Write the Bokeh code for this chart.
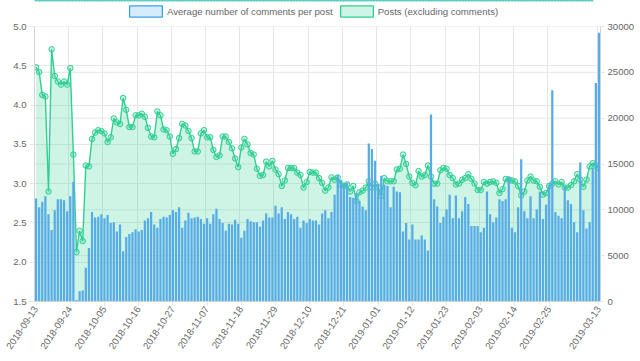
import pandas as pd
from bokeh.plotting import figure
from bokeh.layouts import column
from bokeh.models import (Range1d, LinearAxis, FixedTicker, Span, Legend, LegendItem,
                          NumeralTickFormatter)
from bokeh.embed import file_html
from bokeh.resources import INLINE

# ---------------- data ----------------
dates = [d.strftime("%Y-%m-%d") for d in pd.date_range("2018-09-13", "2019-03-13", freq="D")]

avg_comments = [
    2.81, 2.70, 2.77, 2.84, 2.61, 2.41, 2.66, 2.80, 2.80, 2.79, 2.65, 2.84, 3.02, 1.52, 1.63, 1.64,
    1.93, 2.18, 2.64, 2.57, 2.58, 2.61, 2.56, 2.60, 2.50, 2.51, 2.39, 2.48, 2.14, 2.32, 2.36, 2.38,
    2.42, 2.39, 2.41, 2.53, 2.56, 2.64, 2.48, 2.44, 2.55, 2.58, 2.57, 2.60, 2.66, 2.64, 2.70, 2.44,
    2.53, 2.63, 2.56, 2.57, 2.58, 2.55, 2.49, 2.56, 2.49, 2.61, 2.68, 2.55, 2.50, 2.40, 2.49, 2.48,
    2.54, 2.49, 2.31, 2.40, 2.55, 2.52, 2.51, 2.51, 2.45, 2.53, 2.62, 2.57, 2.57, 2.72, 2.62, 2.70,
    2.55, 2.64, 2.61, 2.55, 2.58, 2.44, 2.53, 2.50, 2.55, 2.53, 2.53, 2.48, 2.62, 2.66, 2.56, 2.64,
    2.86, 3.11, 3.05, 3.00, 3.01, 2.83, 2.82, 2.88, 2.78, 2.71, 2.66, 3.51, 3.44, 3.29, 3.00, 3.10,
    2.99, 2.97, 2.70, 2.96, 2.90, 2.89, 2.39, 2.50, 2.29, 2.48, 2.29, 2.29, 2.34, 2.29, 2.15, 3.88,
    2.80, 2.71, 2.50, 2.58, 2.67, 2.86, 2.56, 2.85, 2.56, 2.65, 2.83, 2.74, 2.46, 2.46, 2.46, 2.38,
    2.44, 2.90, 2.61, 2.51, 2.57, 2.80, 2.78, 2.80, 3.09, 2.44, 2.38, 2.70, 3.31, 2.65, 2.56, 2.84,
    2.56, 2.67, 2.90, 2.55, 2.73, 2.99, 4.19, 2.64, 2.59, 2.56, 2.97, 2.79, 2.74, 2.51, 2.38, 3.27,
    2.66, 2.43, 2.51, 3.20, 4.28, 4.92,
]

posts = [
    25540, 25030, 22540, 22370, 12000, 27510, 24600, 24000, 23660, 24000, 23660, 25460, 16030, 5400,
    7710, 6600, 14830, 14740, 17740, 18430, 18690, 18600, 18340, 17400, 17910, 19970, 19540, 19370,
    22200, 20910, 19030, 19030, 20310, 20310, 20490, 20140, 18940, 18000, 17910, 20740, 20310, 18770,
    18690, 18000, 16110, 16630, 17830, 19370, 19200, 18600, 17830, 16370, 16370, 18340, 18690, 17910,
    17910, 16540, 15770, 15940, 18000, 18000, 17400, 16710, 15600, 14660, 16800, 17740, 17140, 16200,
    16030, 14490, 13710, 13800, 15260, 14740, 15340, 14400, 13890, 12600, 13200, 14570, 14570, 14570,
    14060, 13800, 12430, 13030, 14140, 14060, 14060, 13460, 12940, 12090, 12430, 13540, 13290, 13540,
    12770, 12600, 12770, 12000, 12600, 10970, 11910, 12090, 12430, 13110, 12430, 12860, 12430, 11490,
    13460, 13110, 13110, 13110, 14400, 14490, 16030, 15000, 13630, 12940, 12690, 14230, 13630, 13800,
    14830, 13630, 12860, 12860, 14310, 14570, 14490, 13800, 13460, 12770, 12860, 13290, 13460, 13890,
    13370, 12860, 12170, 12170, 13030, 12860, 13030, 13110, 12940, 11830, 12260, 13370, 13290, 13200,
    13110, 12600, 11570, 12000, 13200, 13630, 13200, 13110, 12510, 11660, 11830, 12600, 12860, 13110,
    12770, 13030, 12430, 12430, 12690, 13110, 13890, 13290, 12510, 13290, 14740, 15090, 14830, 14570,
]

tick_labels = ["2018-09-13", "2018-09-24", "2018-10-05", "2018-10-16", "2018-10-27", "2018-11-07",
               "2018-11-18", "2018-11-29", "2018-12-10", "2018-12-21", "2019-01-01", "2019-01-12",
               "2019-01-23", "2019-02-03", "2019-02-14", "2019-02-25", "2019-03-13"]
left_ticks = [1.5, 2.0, 2.5, 3.0, 3.5, 4.0, 4.5, 5.0]
right_ticks = [0, 5000, 10000, 15000, 20000, 25000, 30000]

series_names = ["Average number of comments per post", "Posts (excluding comments)"]

# ---------------- style ----------------
BLUE = "#57abe6"
BLUE_EDGE = "#36a2eb"
GREEN = "#2fcf92"
TXT = "#666666"
GRID = "#e6e6e6"
AXIS = "#d2d2d2"
FONT = "Liberation Sans"
FS = "9.6px"
FRAME_W, FRAME_H = 566, 275
LEG_H = 19
FIG_W = 630

idx = list(range(len(dates)))
tick_idx = [dates.index(t) for t in tick_labels]

# ---------------- main chart ----------------
p = figure(frame_width=FRAME_W, frame_height=FRAME_H, output_backend="svg",
           toolbar_location=None, tools="",
           x_range=Range1d(-0.5, len(dates) - 0.5),
           y_range=Range1d(left_ticks[0], left_ticks[-1]))
p.extra_y_ranges = {"posts": Range1d(right_ticks[0], right_ticks[-1])}
p.outline_line_color = None
p.min_border_left = 34
p.min_border_right = 0
p.min_border_top = 7
p.min_border_bottom = 0

p.varea(x=idx, y1=0, y2=posts, y_range_name="posts", fill_color=GREEN, fill_alpha=0.24)
p.line(idx, posts, y_range_name="posts", line_color=GREEN, line_width=1.4)
p.scatter(idx, posts, y_range_name="posts", size=5.5, marker="circle",
          fill_color=GREEN, fill_alpha=0.25, line_color=GREEN, line_width=1)
p.vbar(x=idx, top=avg_comments, bottom=left_ticks[0], width=0.72,
       fill_color=BLUE, line_color=None)

xa = p.xaxis[0]
xa.ticker = FixedTicker(ticks=tick_idx)
xa.major_label_overrides = {i: lab for i, lab in zip(tick_idx, tick_labels)}
xa.major_label_orientation = 0.98

ya = p.yaxis[0]
ya.ticker = FixedTicker(ticks=left_ticks)
ya.formatter = NumeralTickFormatter(format="0.0")

ra = LinearAxis(y_range_name="posts", ticker=FixedTicker(ticks=right_ticks),
                formatter=NumeralTickFormatter(format="0"))
p.add_layout(ra, "right")

for ax in (xa, ya, ra):
    ax.axis_line_color = AXIS
    ax.major_tick_line_color = GRID
    ax.minor_tick_line_color = None
    ax.major_tick_in = 0
    ax.major_label_text_font = FONT
    ax.major_label_text_font_size = FS
    ax.major_label_text_color = TXT
xa.major_tick_out = 4
xa.major_label_standoff = 2
ya.major_tick_out = 5
ya.major_label_standoff = 3
ra.major_tick_out = 4
ra.major_label_standoff = 3

p.xgrid.ticker = FixedTicker(ticks=[i - 0.5 for i in tick_idx[1:]])
p.xgrid.grid_line_color = GRID
p.ygrid.ticker = FixedTicker(ticks=left_ticks)
p.ygrid.grid_line_color = GRID
for t in right_ticks:
    p.add_layout(Span(location=t, dimension="width", y_range_name="posts",
                      line_color=GRID, line_width=1, level="underlay"))

# ---------------- legend strip ----------------
lg = figure(width=FIG_W, height=LEG_H, output_backend="svg", toolbar_location=None, tools="",
            x_axis_location=None, y_axis_location=None,
            x_range=Range1d(-0.5, len(dates) - 0.5), y_range=Range1d(-3, -2))
lg.extra_y_ranges = {"posts": Range1d(-60000, -30000)}
lg.outline_line_color = None
lg.grid.visible = False
lg.min_border = 0
# swatch renderers: real data, lying outside this strip's visible range
sw_bar = lg.vbar(x=idx, top=avg_comments, bottom=left_ticks[0], width=0.72,
                 fill_color=BLUE_EDGE, fill_alpha=0.2, line_color=BLUE_EDGE, line_width=1.3)
sw_area = lg.vbar(x=idx, top=posts, bottom=0, width=0.72, y_range_name="posts",
                  fill_color=GREEN, fill_alpha=0.24, line_color=GREEN, line_width=1.3)
legend = Legend(items=[LegendItem(label=series_names[0], renderers=[sw_bar]),
                       LegendItem(label=series_names[1], renderers=[sw_area])],
                orientation="horizontal", location=(91, 1),
                glyph_width=41, glyph_height=14, label_standoff=1, spacing=3,
                padding=0, margin=0, border_line_color=None, background_fill_alpha=0,
                label_text_font=FONT, label_text_font_size=FS, label_text_color=TXT)
lg.add_layout(legend, "center")

layout = column(lg, p, spacing=0)
open("out.html", "w").write(file_html(layout, INLINE))
